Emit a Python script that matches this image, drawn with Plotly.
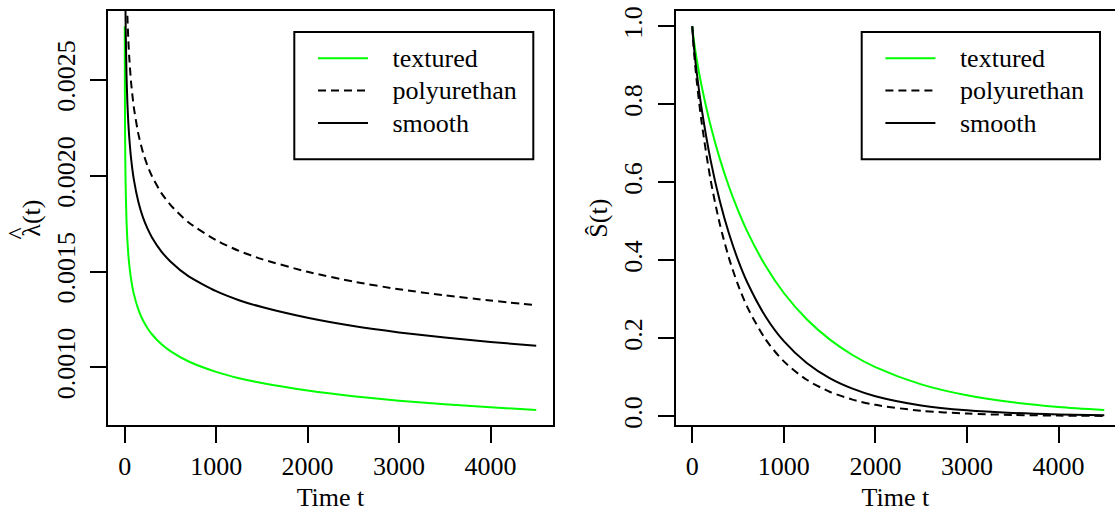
import plotly.graph_objects as go

# ---------------- data ----------------
series_names = ["textured", "polyurethan", "smooth"]

t_haz = [1, 2, 3, 5, 10, 20, 30, 40, 50, 70, 100, 150, 200, 250, 300, 400, 500,
         700, 1000, 1250, 1500, 2000, 2500, 3000, 3500, 4000, 4500]
haz_textured = [0.002780, 0.002503, 0.002354, 0.002179, 0.001962, 0.001766, 0.001661,
                0.001590, 0.001538, 0.001461, 0.001384, 0.001302, 0.001246, 0.001205,
                0.001172, 0.001122, 0.001085, 0.001031, 0.000977, 0.000944, 0.000919,
                0.000880, 0.000850, 0.000827, 0.000808, 0.000792, 0.000778]
haz_polyurethan = [0.004734, 0.004263, 0.004009, 0.003711, 0.003341, 0.003007, 0.002829,
                   0.002708, 0.002619, 0.002488, 0.002357, 0.002217, 0.002122, 0.002052,
                   0.001996, 0.001911, 0.001848, 0.001756, 0.001664, 0.001608, 0.001565,
                   0.001499, 0.001448, 0.001408, 0.001376, 0.001349, 0.001325]
haz_smooth = [0.003978, 0.003582, 0.003369, 0.003118, 0.002808, 0.002527, 0.002377,
              0.002275, 0.002201, 0.002091, 0.001981, 0.001863, 0.001783, 0.001724,
              0.001677, 0.001606, 0.001553, 0.001475, 0.001398, 0.001351, 0.001315,
              0.001259, 0.001216, 0.001183, 0.001156, 0.001133, 0.001113]

t_surv = [0, 10, 25, 50, 100, 200, 300, 400, 500, 600, 800, 1000, 1250, 1500, 1750,
          2000, 2500, 3000, 3500, 4000, 4500]
surv_textured = [1.0, 0.9771, 0.9509, 0.9134, 0.8495, 0.7455, 0.6607, 0.5892, 0.5277,
                 0.4741, 0.3858, 0.3161, 0.2488, 0.1972, 0.1571, 0.1259, 0.0817, 0.0537,
                 0.0357, 0.0239, 0.0161]
surv_polyurethan = [1.0, 0.9614, 0.9179, 0.8570, 0.7574, 0.6063, 0.4937, 0.4062, 0.3367,
                    0.2806, 0.1975, 0.1407, 0.0936, 0.0630, 0.0428, 0.0293, 0.0141, 0.0069,
                    0.0034, 0.0017, 0.0009]
surv_smooth = [1.0, 0.9675, 0.9305, 0.8784, 0.7918, 0.6568, 0.5526, 0.4691, 0.4006,
               0.3437, 0.2560, 0.1925, 0.1366, 0.0979, 0.0708, 0.0515, 0.0278, 0.0152,
               0.0085, 0.0048, 0.0027]

x_ticks = [0, 1000, 2000, 3000, 4000]
haz_ticks = [0.0010, 0.0015, 0.0020, 0.0025]
haz_tick_labels = ["0.0010", "0.0015", "0.0020", "0.0025"]
surv_ticks = [0.0, 0.2, 0.4, 0.6, 0.8, 1.0]
surv_tick_labels = ["0.0", "0.2", "0.4", "0.6", "0.8", "1.0"]

# ---------------- styling ----------------
W, H = 1115, 515
FONT = "Liberation Serif, Times New Roman, Times, serif"
FS = 26
LEG_FS = 22.6   # controls legend row spacing; text itself drawn at FS
colors = {"textured": "#00ff00", "polyurethan": "black", "smooth": "black"}
dashes = {"textured": "solid", "polyurethan": "8px,5px", "smooth": "solid"}

fig = go.Figure()

haz = {"textured": haz_textured, "polyurethan": haz_polyurethan, "smooth": haz_smooth}
surv = {"textured": surv_textured, "polyurethan": surv_polyurethan, "smooth": surv_smooth}


def leg_name(n):
    return '<span style="font-size:%dpx">\u00a0\u00a0\u00a0%s</span>' % (FS, n)


for name in series_names:
    fig.add_trace(go.Scatter(
        x=t_haz, y=haz[name], mode="lines", name=leg_name(name),
        line=dict(color=colors[name], width=2, dash=dashes[name],
                  shape="spline", smoothing=0.6),
        xaxis="x", yaxis="y", legend="legend"))
for name in series_names:
    fig.add_trace(go.Scatter(
        x=t_surv, y=surv[name], mode="lines", name=leg_name(name),
        line=dict(color=colors[name], width=2, dash=dashes[name],
                  shape="spline", smoothing=0.8),
        xaxis="x2", yaxis="y2", legend="legend2"))


def px_x(p):
    return p / W


def px_y(p):
    return 1 - p / H


axis_common = dict(
    showgrid=False, zeroline=False, showline=True, linecolor="black", linewidth=2,
    ticks="outside", ticklen=16, tickwidth=2, tickcolor="black",
    tickfont=dict(family=FONT, size=FS, color="black"),
)

ydom = [px_y(427), px_y(6)]

# legend boxes (R style) drawn as rectangles in paper coordinates
legend_boxes = [(294.3, 27.3, 533.3, 156.7), (861.7, 27.3, 1100.0, 156.7)]
shapes = []
for (x0, y0, x1, y1) in legend_boxes:
    shapes.append(dict(type="rect", xref="paper", yref="paper",
                       x0=px_x(x0), x1=px_x(x1), y0=px_y(y1), y1=px_y(y0),
                       line=dict(color="black", width=2), fillcolor="white", layer="below"))

fig.update_layout(
    width=W, height=H,
    margin=dict(l=0, r=0, t=0, b=0),
    paper_bgcolor="white", plot_bgcolor="rgba(0,0,0,0)",
    font=dict(family=FONT, size=FS, color="black"),
    xaxis=dict(domain=[px_x(108.3), px_x(552.7)], range=[-179, 4680],
               tickvals=x_ticks, ticktext=[str(v) for v in x_ticks], mirror=True,
               title=dict(text="Time t", font=dict(family=FONT, size=FS), standoff=8),
               anchor="y", **axis_common),
    yaxis=dict(domain=ydom, range=[0.000698, 0.002860], tickvals=haz_ticks,
               ticktext=haz_tick_labels, tickangle=-90, mirror=True, ticklabelstandoff=5,
               title=dict(text="λ(t)", font=dict(family=FONT, size=FS), standoff=4),
               anchor="x", **axis_common),
    xaxis2=dict(domain=[px_x(675.8), 1.0], range=[-180, 4617],
                tickvals=x_ticks, ticktext=[str(v) for v in x_ticks], mirror=True,
                title=dict(text="Time t", font=dict(family=FONT, size=FS), standoff=8),
                anchor="y2", **axis_common),
    yaxis2=dict(domain=ydom, range=[-0.0233, 1.0394], tickvals=surv_ticks,
                ticktext=surv_tick_labels, tickangle=-90, mirror=False, ticklabelstandoff=5,
                title=dict(text="Ŝ(t)", font=dict(family=FONT, size=FS), standoff=4),
                anchor="x2", **axis_common),
    legend=dict(x=px_x(313), y=px_y(32.5), xanchor="left", yanchor="top",
                borderwidth=0, bgcolor="rgba(0,0,0,0)", itemwidth=50,
                font=dict(family=FONT, size=LEG_FS, color="black"), tracegroupgap=0),
    legend2=dict(x=px_x(880.4), y=px_y(32.5), xanchor="left", yanchor="top",
                 borderwidth=0, bgcolor="rgba(0,0,0,0)", itemwidth=50,
                 font=dict(family=FONT, size=LEG_FS, color="black"), tracegroupgap=0),
    showlegend=True,
    shapes=shapes,
    annotations=[dict(text="^", xref="paper", yref="paper", x=px_x(17), y=px_y(232),
                      xanchor="center", yanchor="middle", showarrow=False, textangle=-90,
                      font=dict(family=FONT, size=FS, color="black"))],
)

fig.write_html("out.html", config={"displayModeBar": False},
               post_script="document.body.style.margin='0px';")
